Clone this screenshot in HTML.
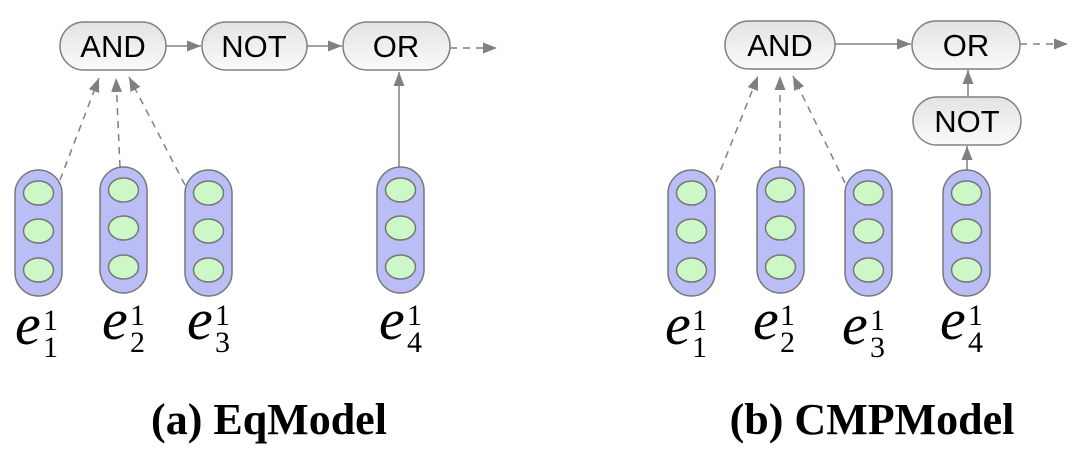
<!DOCTYPE html>
<html><head><style>body{margin:0;background:#fff}svg{display:block}</style></head><body>
<svg width="1080" height="455" viewBox="0 0 1080 455" xmlns="http://www.w3.org/2000/svg">
<defs>
<linearGradient id="g" x1="0" y1="0" x2="0" y2="1"><stop offset="0" stop-color="#e3e3e3"/><stop offset="1" stop-color="#fafafa"/></linearGradient>
<marker id="a" markerWidth="16" markerHeight="12" refX="14" refY="5.5" orient="auto" markerUnits="userSpaceOnUse"><path d="M0,0 L14,5.5 L0,11 z" fill="#808080"/></marker>
<g id="pill"><rect x="0" y="0" width="47" height="126" rx="23.5" fill="#babdf6" stroke="#777" stroke-width="1.5"/>
<ellipse cx="23.5" cy="23" rx="15" ry="12" fill="#ccf7c6" stroke="#777" stroke-width="1.5"/>
<ellipse cx="23.5" cy="61" rx="15" ry="12" fill="#ccf7c6" stroke="#777" stroke-width="1.5"/>
<ellipse cx="23.5" cy="100" rx="15" ry="12" fill="#ccf7c6" stroke="#777" stroke-width="1.5"/></g>
</defs>
<g stroke="#808080" stroke-width="1.5" fill="none">
<line x1="166" y1="46" x2="201" y2="46" marker-end="url(#a)"/>
<line x1="307" y1="46" x2="342" y2="46" marker-end="url(#a)"/>
<line x1="450" y1="48" x2="497" y2="48" stroke-dasharray="7,6" marker-end="url(#a)"/>
<line x1="60" y1="180" x2="99" y2="78" stroke-dasharray="7,6" marker-end="url(#a)"/>
<line x1="120" y1="167" x2="116" y2="78" stroke-dasharray="7,6" marker-end="url(#a)"/>
<line x1="185" y1="185" x2="129" y2="77" stroke-dasharray="7,6" marker-end="url(#a)"/>
<line x1="399" y1="167" x2="399" y2="72" marker-end="url(#a)"/>
<line x1="835" y1="44" x2="911" y2="44" marker-end="url(#a)"/>
<line x1="1020" y1="44" x2="1068" y2="44" stroke-dasharray="7,6" marker-end="url(#a)"/>
<line x1="716" y1="182" x2="758" y2="76" stroke-dasharray="7,6" marker-end="url(#a)"/>
<line x1="780" y1="167" x2="780" y2="76" stroke-dasharray="7,6" marker-end="url(#a)"/>
<line x1="845" y1="183" x2="793" y2="76" stroke-dasharray="7,6" marker-end="url(#a)"/>
<line x1="968" y1="97" x2="968" y2="70" marker-end="url(#a)"/>
<line x1="967" y1="170" x2="967" y2="146" marker-end="url(#a)"/>
</g>
<g stroke="#808080" stroke-width="1.5" fill="url(#g)">
<rect x="60" y="22" width="106" height="48" rx="24"/>
<rect x="202" y="22" width="105" height="48" rx="24"/>
<rect x="343" y="22" width="107" height="48" rx="24"/>
<rect x="725" y="21" width="110" height="48" rx="24"/>
<rect x="912" y="21" width="108" height="48" rx="24"/>
<rect x="913" y="97" width="108" height="48" rx="24"/>
</g>
<g font-family="Liberation Sans, sans-serif" font-size="31" text-anchor="middle" fill="#000">
<text x="113" y="57">AND</text><text x="254" y="57">NOT</text><text x="396" y="57">OR</text>
<text x="780" y="56">AND</text><text x="966" y="56">OR</text><text x="967" y="132">NOT</text>
</g>
<use href="#pill" x="15" y="170"/><use href="#pill" x="100" y="167"/><use href="#pill" x="185" y="170"/><use href="#pill" x="377" y="167"/>
<use href="#pill" x="668" y="170"/><use href="#pill" x="757" y="167"/><use href="#pill" x="845" y="170"/><use href="#pill" x="943" y="170"/>
<g font-family="Liberation Serif, serif" fill="#000">
<g font-size="58" font-style="italic">
<text x="15" y="344">e</text><text x="102" y="339">e</text><text x="187" y="339">e</text><text x="379" y="339">e</text>
<text x="665" y="344">e</text><text x="753" y="339">e</text><text x="842" y="344">e</text><text x="940" y="339">e</text>
</g>
<g font-size="30">
<text x="43" y="330">1</text><text x="43" y="357">1</text>
<text x="130" y="325">1</text><text x="130" y="352">2</text>
<text x="215" y="325">1</text><text x="215" y="352">3</text>
<text x="407" y="325">1</text><text x="407" y="352">4</text>
<text x="692" y="330">1</text><text x="692" y="357">1</text>
<text x="780" y="325">1</text><text x="780" y="352">2</text>
<text x="870" y="330">1</text><text x="870" y="357">3</text>
<text x="968" y="325">1</text><text x="968" y="352">4</text>
</g>
<g font-size="44" font-weight="bold" text-anchor="middle">
<text x="269" y="434">(a) EqModel</text><text x="872" y="434">(b) CMPModel</text>
</g>
</g>
</svg>
</body></html>
